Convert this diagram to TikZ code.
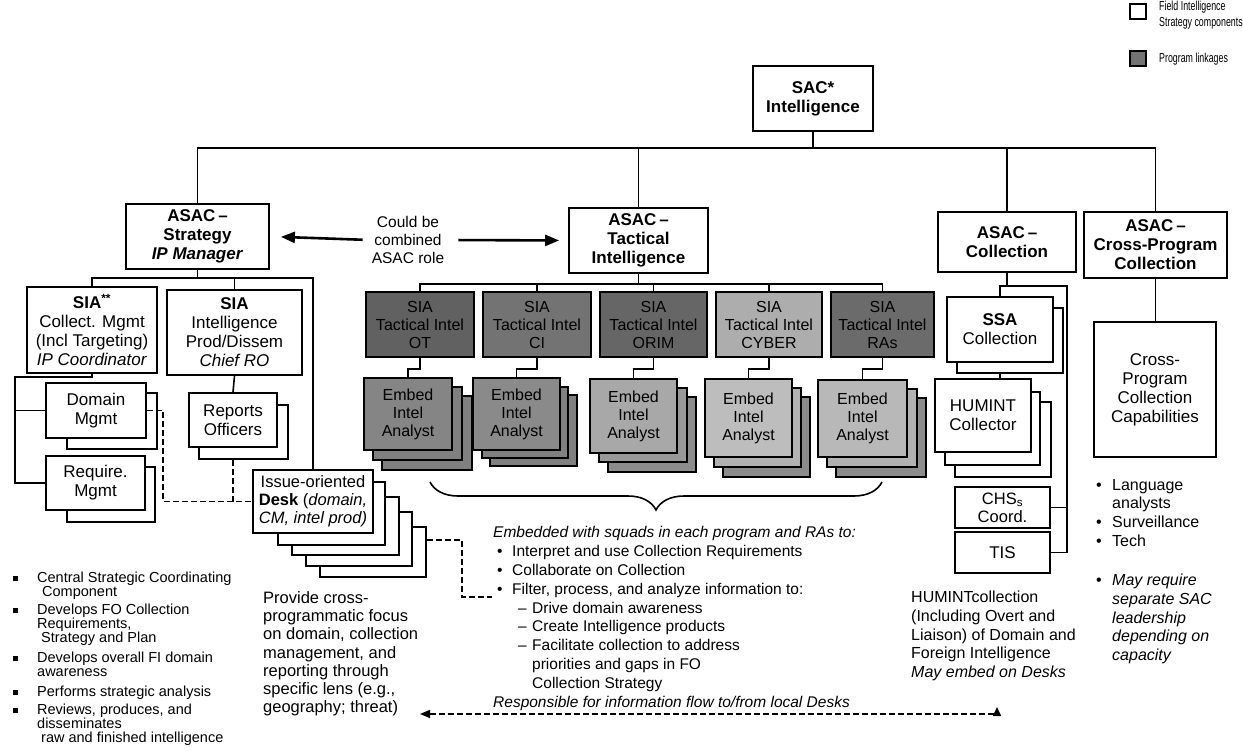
\documentclass[tikz,border=0pt]{standalone}
\usepackage{fontspec}
\setmainfont{Liberation Sans}
\newfontfamily\legfont[FakeStretch=0.68]{Liberation Sans}
\usetikzlibrary{arrows.meta,decorations.pathreplacing}

\newcommand{\fntBox}{\fontsize{17}{19}\selectfont}
\newcommand{\fntTac}{\fontsize{16}{18}\selectfont}
\newcommand{\fntMid}{\fontsize{15.5}{18.9}\selectfont}
\newcommand{\fntTxt}{\fontsize{16}{18.7}\selectfont}
\newcommand{\fntList}{\fontsize{14.5}{14}\selectfont}
\newcommand{\fntLeg}{\legfont\fontsize{13}{16}\selectfont}

% box from its two corners: style, name, x1, y1, x2, y2, text
\newcommand{\boxnode}[7]{%
  \pgfmathsetmacro{\bnW}{#5-#3}%
  \pgfmathsetmacro{\bnH}{#6-#4}%
  \pgfmathsetmacro{\bnX}{(#3+#5)/2}%
  \pgfmathsetmacro{\bnY}{(#4+#6)/2}%
  \node[#1, minimum width=\bnW pt, minimum height=\bnH pt] (#2) at (\bnX,\bnY) {#7};}

\newcommand{\sqbul}{\makebox[24pt][l]{\rule[1.5pt]{5pt}{5pt}}}
\newcommand{\dotbul}{\hspace*{4pt}\makebox[15pt][l]{\textbullet}}
\newcommand{\dashbul}{\hspace*{25pt}\makebox[14pt][l]{--}}
\newcommand{\rbul}{\makebox[16pt][l]{\textbullet}}

\begin{document}
\begin{tikzpicture}[x=1pt,y=-1pt,
  conn/.style={line width=1.6pt},
  dconn/.style={line width=1.6pt, dash pattern=on 6pt off 3pt},
  bigarrow/.style={line width=2.6pt, -{Triangle[length=14pt,width=11pt]}},
  box/.style={draw, line width=1.8pt, fill=white, align=center, inner sep=0pt, font=\fntBox},
  hbox/.style={box, font=\fntBox\bfseries},
  backbox/.style={draw, line width=1.8pt, fill=white, inner sep=0pt},
  tacbox/.style={box, font=\fntTac, fill=black!55},
  embbox/.style={box, font=\fntTac, fill=black!42},
  embback/.style={backbox, fill=black!50},
  legsq/.style={draw, line width=2.6pt, inner sep=0pt},
  txt/.style={align=left, inner sep=0pt, anchor=north west}
]
\useasboundingbox (0,0) rectangle (1243,751);
\fill[white] (0,0) rectangle (1243,751);

% ---------- legend ----------
\boxnode{legsq, fill=white}{leg1}{1130}{4}{1146}{19}{}
\boxnode{legsq, fill=black!55}{leg2}{1130}{51}{1146}{66}{}
\node[txt, font=\fntLeg] (legt1) at (1159,1) {Field Intelligence\\Strategy components};
\node[txt, font=\fntLeg, anchor=west] (legt2) at (1159,59) {Program linkages};

% ---------- top level ----------
\boxnode{hbox}{sac}{753}{66}{873}{131}{SAC*\\Intelligence}
\boxnode{hbox}{strat}{126}{204}{269}{269}{ASAC\,--\\Strategy\\\textit{IP Manager}}
\boxnode{hbox}{tact}{569}{208}{708}{273}{ASAC\,--\\Tactical\\Intelligence}
\boxnode{hbox}{coll}{938}{212}{1076}{272}{ASAC\,--\\Collection}
\boxnode{hbox}{cross}{1084}{212}{1227}{278}{ASAC\,--\\Cross-Program\\Collection}

\coordinate (topbar) at (813,148);
\draw[conn] (sac.south) -- (topbar);
\draw[conn] (strat.north) |- (topbar) -| (cross.north);
\draw[conn] (tact.north) -- (tact.north |- topbar);
\draw[conn] (coll.north) -- (coll.north |- topbar);

\node[align=center, font=\fontsize{15.5}{18}\selectfont, inner sep=2pt] (comb) at (408,240) {Could be\\combined\\ASAC role};
\draw[bigarrow, shorten <=7pt, shorten >=11pt] (comb.west) -- (strat.east);
\draw[bigarrow, shorten <=12pt, shorten >=9pt] (comb.east) -- (tact.west);

% ---------- strategy branch ----------
\boxnode{box}{sia1}{27}{287}{157}{373}{\textbf{SIA\textsuperscript{**}}\\Collect. Mgmt\\(Incl Targeting)\\\textit{IP Coordinator}}
\boxnode{box}{sia2}{167}{290}{302}{375}{\textbf{SIA}\\Intelligence\\Prod/Dissem\\\textit{Chief RO}}

\boxnode{backbox}{dom-s1}{67}{393}{157}{449}{}
\boxnode{box}{dom}{46}{383}{146}{438}{Domain\\Mgmt}
\boxnode{backbox}{req-s1}{67}{467}{155}{522}{}
\boxnode{box}{req}{46}{456}{145}{510}{Require.\\Mgmt}
\boxnode{backbox}{rep-s1}{199}{405}{288}{459}{}
\boxnode{box}{rep}{189}{393}{277}{447}{Reports\\Officers}

\boxnode{backbox}{desk-s4}{320}{527}{426}{577}{}
\boxnode{backbox}{desk-s3}{306}{512}{412}{566}{}
\boxnode{backbox}{desk-s2}{292}{497}{399}{555}{}
\boxnode{backbox}{desk-s1}{278}{482}{385}{545}{}
\boxnode{box, font=\fontsize{16.5}{18}\selectfont}{desk}{253}{470}{373}{533}{Issue-oriented\\\textbf{Desk} (\textit{domain,}\\\textit{CM, intel prod)}}

\coordinate (sbar) at (197.5,278);
\draw[conn] (strat.south) -- (sbar);
\draw[conn] (sia1.north) |- (sbar) -| (desk.north);
\draw[conn] (sia2.north) -- (sia2.north |- sbar);
\draw[conn] (sia2.south) -- (rep.north);

\coordinate (lspine) at (15,377);
\draw[conn] (sia1.south) |- (lspine) |- (req.west);
\draw[conn] (lspine |- dom.west) -- (dom.west);

\coordinate (dj) at (163,501.5);
\draw[dconn] (dom.east) -| (dj) -- (desk.west);
\draw[dconn] (rep.south |- rep-s1.south) -- (rep.south |- desk.west);

% ---------- tactical branch ----------
\boxnode{tacbox, fill=black!62}{tac1}{366}{292}{474}{357}{SIA\\Tactical Intel\\OT}
\boxnode{tacbox}{tac2}{483}{292}{591}{357}{SIA\\Tactical Intel\\CI}
\boxnode{tacbox, fill=black!60}{tac3}{600}{292}{707}{357}{SIA\\Tactical Intel\\ORIM}
\boxnode{tacbox, fill=black!32}{tac4}{716}{292}{822}{357}{SIA\\Tactical Intel\\CYBER}
\boxnode{tacbox, fill=black!58}{tac5}{831}{292}{934}{357}{SIA\\Tactical Intel\\RAs}

\boxnode{embback}{emb1-s2}{382}{396}{472}{470}{}
\boxnode{embback}{emb1-s1}{373}{387}{462}{460}{}
\boxnode{embbox, fill=black!48}{emb1}{364}{378}{452}{450}{Embed\\Intel\\Analyst}
\boxnode{embback}{emb2-s2}{490}{395}{577}{466}{}
\boxnode{embback}{emb2-s1}{482}{387}{568}{458}{}
\boxnode{embbox, fill=black!46}{emb2}{473}{378}{560}{450}{Embed\\Intel\\Analyst}
\boxnode{embback, fill=black!45}{emb3-s2}{608}{397}{696}{472}{}
\boxnode{embback, fill=black!40}{emb3-s1}{599}{388}{687}{462}{}
\boxnode{embbox, fill=black!34}{emb3}{590}{379}{677}{453}{Embed\\Intel\\Analyst}
\boxnode{embback, fill=black!45}{emb4-s2}{723}{397}{810}{477}{}
\boxnode{embback, fill=black!30}{emb4-s1}{714}{388}{801}{467}{}
\boxnode{embbox, fill=black!26}{emb4}{705}{379}{792}{457}{Embed\\Intel\\Analyst}
\boxnode{embback, fill=black!45}{emb5-s2}{836}{398}{926}{477}{}
\boxnode{embback, fill=black!30}{emb5-s1}{827}{389}{917}{467}{}
\boxnode{embbox, fill=black!28}{emb5}{818}{380}{907}{457}{Embed\\Intel\\Analyst}

\coordinate (tbar) at (638.5,284);
\draw[conn] (tact.south) -- (tbar);
\draw[conn] (tac1.north) |- (tbar) -| (tac5.north);
\draw[conn] (tac2.north) -- (tac2.north |- tbar);
\draw[conn] (tac3.north) -- (tac3.north |- tbar);
\draw[conn] (tac4.north) -- (tac4.north |- tbar);
\foreach \k in {1,...,5}{
  \draw[conn] (tac\k.south) -- ++(0,11) -| (emb\k.north);
}

\draw[line width=1.6pt, decorate, decoration={brace, mirror, amplitude=28pt, aspect=0.5}]
  (430,482) -- (882,482);

% ---------- collection branch ----------
\boxnode{backbox}{ssa-s1}{957}{308}{1063}{373}{}
\boxnode{box}{ssa}{947}{297}{1053}{362}{\textbf{SSA}\\Collection}
\boxnode{backbox}{hum-s2}{955}{402}{1051}{477}{}
\boxnode{backbox}{hum-s1}{945}{392}{1040}{465}{}
\boxnode{box}{hum}{935}{379}{1031}{452}{HUMINT\\Collector}
\boxnode{box, font=\fontsize{16.5}{18}\selectfont}{chs}{955}{487}{1050}{528}{CHS\textsubscript{s}\\Coord.}
\boxnode{box}{tis}{955}{532}{1050}{573}{TIS}

\coordinate (cbar) at (1007,286);
\coordinate (cspine) at (1067,286);
\draw[conn] (coll.south) -- (cbar);
\draw[conn] (ssa.north) |- (cbar) -- (cspine) |- (tis.east);
\draw[conn] (cspine |- chs.east) -- (chs.east);
\draw[conn] (ssa.south |- ssa-s1.south) -- (ssa.south |- hum.north);

\boxnode{box}{cap}{1094}{322}{1216}{457}{Cross-\\Program\\Collection\\Capabilities}
\draw[conn] (cross.south) -- (cross.south |- cap.north);

% ---------- text blocks ----------
\node[txt, font=\fntList] (strattxt) at (13,572) {%
\sqbul Central Strategic Coordinating\\
\hspace*{29pt}Component\\[4pt]
\sqbul Develops FO Collection\\
\hspace*{24pt}Requirements,\\
\hspace*{28pt}Strategy and Plan\\[6pt]
\sqbul Develops overall FI domain\\
\hspace*{24pt}awareness\\[6pt]
\sqbul Performs strategic analysis\\[4pt]
\sqbul Reviews, produces, and\\
\hspace*{24pt}disseminates\\
\hspace*{28pt}raw and finished intelligence};

\node[txt, font=\fontsize{16.5}{18.3}\selectfont] (desktxt) at (263,591) {%
Provide cross-\\programmatic focus\\on domain, collection\\management, and\\reporting through\\specific lens (e.g.,\\geography; threat)};

\node[txt, font=\fntMid] (midtxt) at (493,526) {%
\textit{Embedded with squads in each program and RAs to:}\\
\dotbul Interpret and use Collection Requirements\\
\dotbul Collaborate on Collection\\
\dotbul Filter, process, and analyze information to:\\
\dashbul Drive domain awareness\\
\dashbul Create Intelligence products\\
\dashbul Facilitate collection to address\\
\hspace*{39pt}priorities and gaps in FO\\
\hspace*{39pt}Collection Strategy\\
\textit{Responsible for information flow to/from local Desks}};

\node[txt, font=\fntTxt] (humtxt) at (911,591) {%
HUMINTcollection\\(Including Overt and\\Liaison) of Domain and\\Foreign Intelligence\\\textit{May embed on Desks}};

\node[txt, font=\fntTxt] (captxt) at (1096,479) {%
\rbul Language\\\hspace*{16pt}analysts\\\rbul Surveillance\\\rbul Tech};
\node[txt, font=\fntTxt] (leadtxt) at (1096,574) {%
\rbul\textit{May require}\\\hspace*{16pt}\textit{separate SAC}\\\hspace*{16pt}\textit{leadership}\\\hspace*{16pt}\textit{depending on}\\\hspace*{16pt}\textit{capacity}};

% ---------- dashed links ----------
\coordinate (dturn) at (462,540);
\coordinate (filtpt) at (492,597);
\draw[dconn] (desk-s4.east |- dturn) -- (dturn) |- (filtpt);

\coordinate (flowL) at (420,714);
\coordinate (flowR) at (997,714);
\draw[dconn, {Triangle[length=10pt,width=8pt]}-{Triangle[length=9pt,width=8pt]}] (flowL) -- (flowR) -- ++(0,-7);
\end{tikzpicture}
\end{document}
